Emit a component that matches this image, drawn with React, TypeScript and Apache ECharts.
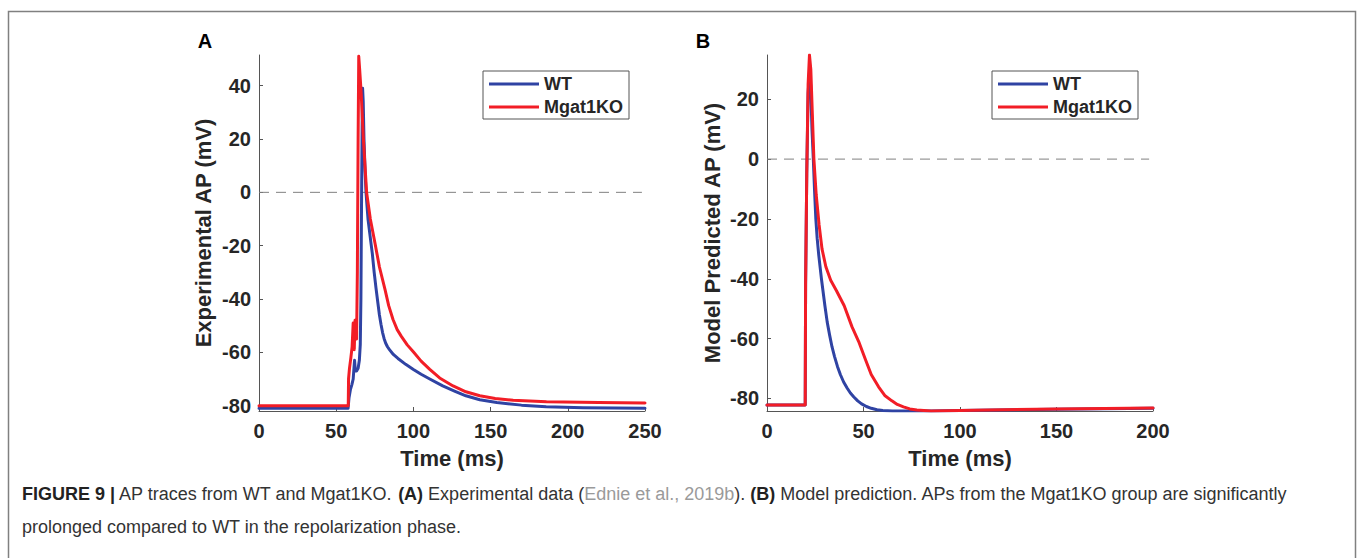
import React, { useEffect, useRef } from "react";
import * as echarts from "echarts";

const FONT = '"Liberation Sans", Arial, Helvetica, sans-serif';

// Panel A – experimental AP traces (time in ms, voltage in mV)
const wtA_t = [0, 57.7, 58.3, 59.2, 60.2, 61.0, 61.5, 61.9, 62.4, 63.2, 64.2, 65.0, 65.6, 66.0, 66.4, 66.8, 67.1, 67.5, 68.0, 68.7, 69.3, 70.6, 72.3, 73.4, 74.6, 75.8, 77.0, 78.0, 79.0, 80.0, 81.0, 82.0, 83.2, 84.5, 87.0, 90.0, 95.0, 100.0, 105.0, 110.0, 119.0, 127.0, 134.0, 143.0, 154.0, 170.0, 186.0, 210.0, 250.0];
const wtA_v = [-81, -81, -77, -74, -72, -70, -66, -63, -67, -67, -66, -63, -57, -40, -5, 25, 39, 34, 20, 8, 0, -10, -18, -23, -30, -36, -41.5, -46, -49.5, -52.5, -54.8, -56.5, -57.9, -59, -60.8, -62.3, -64.5, -66.4, -68.2, -69.8, -72.6, -74.6, -76.3, -77.8, -78.8, -79.8, -80.4, -80.8, -81];
const koA_t = [0, 57.8, 58.0, 58.6, 59.5, 60.3, 61.0, 61.4, 61.7, 62.2, 62.7, 63.2, 63.7, 64.2, 64.6, 65.2, 66.1, 67.6, 69.7, 72.1, 75.1, 78.0, 81.6, 84.0, 86.8, 89.5, 92.2, 96.0, 100.2, 105.0, 110.6, 117.0, 125.7, 134.0, 143.0, 153.0, 164.6, 186.2, 220.0, 250.0];
const koA_v = [-80, -80, -70, -66, -62, -58, -49, -55, -59, -48, -52, -55, -30, 20, 51, 46, 38, 20, 0, -10, -19, -28, -36.4, -42.5, -47.7, -51.5, -54, -57.2, -60, -63.3, -66.4, -69.6, -72.6, -74.8, -76.3, -77.3, -78, -78.5, -78.8, -79];

// Panel B – model predicted AP traces
const wtB_t = [0, 19.8, 20.0, 20.6, 21.3, 22.0, 22.6, 23.3, 24.0, 24.6, 25.3, 26.0, 26.8, 28.2, 30.0, 31.2, 32.5, 33.7, 35.0, 36.5, 38.0, 39.7, 41.5, 43.2, 45.0, 47.0, 49.0, 51.5, 54.0, 57.0, 60.0, 65.0, 70.0, 85.0, 100, 150, 200];
const wtB_v = [-82.2, -82.2, -42, -5, 22, 29, 25, 10, 0, -10, -20, -26.5, -32, -40, -49, -54.5, -59, -62.8, -66, -69.3, -72, -74.5, -76.5, -78.2, -79.5, -80.8, -81.8, -82.7, -83.3, -83.8, -84.0, -84.2, -84.2, -84.2, -84.0, -83.6, -83.3];
const koB_t = [0, 19.8, 20.0, 20.6, 21.3, 22.0, 22.7, 23.5, 24.3, 25.5, 27.0, 28.5, 30.5, 33.0, 36.0, 40.0, 44.0, 47.5, 51.0, 54.0, 57.8, 61.0, 64.7, 67.5, 70.7, 74.0, 77.6, 85, 100, 150, 200];
const koB_v = [-82.2, -82.2, -42, -5, 25, 34.8, 30, 15, 0, -12, -22, -30, -36, -40.5, -44, -49, -56, -61, -67, -72, -76.1, -79, -80.8, -82, -82.8, -83.5, -83.9, -84.2, -84.0, -83.5, -83.2];

const seriesNames = ["WT", "Mgat1KO"];
const xTicksA = [0, 50, 100, 150, 200, 250];
const yTicksA = [-80, -60, -40, -20, 0, 20, 40];
const xTicksB = [0, 50, 100, 150, 200];
const yTicksB = [-80, -60, -40, -20, 0, 20];
const zeroRefA = [0, 248];
const zeroRefB = [0, 198];

const BLUE = "#2F43A3";
const RED = "#F21D26";
const TXT = "#262626";
const AX = "#555555";

const zip = (t: number[], v: number[]) => t.map((x, i) => [x, v[i]]);

function axisBase(ticks: number[], margin: number) {
  return {
    type: "value",
    axisLine: { show: true, onZero: false, lineStyle: { color: AX, width: 1 } },
    axisTick: { show: true, inside: true, length: 4, customValues: ticks, lineStyle: { color: AX } },
    axisLabel: { color: TXT, fontSize: 20, fontWeight: "bold", fontFamily: FONT, customValues: ticks, margin },
    splitLine: { show: false },
    nameLocation: "middle",
    nameTextStyle: { fontSize: 22, fontWeight: "bold", color: TXT, fontFamily: FONT },
  };
}

function legendAt(left: number) {
  return {
    data: seriesNames,
    orient: "vertical",
    left,
    top: 71,
    padding: [4, 6, 3, 6],
    itemGap: 5,
    itemWidth: 50,
    itemHeight: 3,
    icon: "rect",
    borderColor: "#555",
    borderWidth: 1,
    selectedMode: false,
    textStyle: { fontSize: 18, fontWeight: "bold", color: TXT, fontFamily: FONT },
  };
}

function traceSeries(name: string, color: string, data: number[][], idx: number) {
  return {
    name,
    type: "line",
    xAxisIndex: idx,
    yAxisIndex: idx,
    data,
    showSymbol: false,
    symbol: "none",
    lineStyle: { color, width: 3, join: "round", cap: "round" },
    itemStyle: { color },
    z: 3,
  };
}

function zeroSeries(range: number[], idx: number) {
  return {
    name: "zero" + idx,
    type: "line",
    xAxisIndex: idx,
    yAxisIndex: idx,
    data: range.map((x) => [x, 0]),
    symbol: "none",
    silent: true,
    lineStyle: { color: "#808080", width: 1, type: [10, 7] },
    z: 2,
  };
}

export default function App() {
  const ref = useRef<HTMLDivElement>(null);
  useEffect(() => {
    if (!ref.current) return;
    const chart = echarts.init(ref.current, null, { renderer: "svg" });
    const option: any = {
      animation: false,
      backgroundColor: "#ffffff",
      textStyle: { fontFamily: FONT },
      grid: [
        { left: 259, top: 55, width: 386, height: 356 },
        { left: 767, top: 55, width: 386, height: 356 },
      ],
      xAxis: [
        { ...axisBase(xTicksA, 10), gridIndex: 0, min: 0, max: 250, interval: 50, name: "Time (ms)", nameGap: 36 },
        { ...axisBase(xTicksB, 10), gridIndex: 1, min: 0, max: 200, interval: 50, name: "Time (ms)", nameGap: 36 },
      ],
      yAxis: [
        { ...axisBase(yTicksA, 8), gridIndex: 0, min: -82, max: 51.5, name: "Experimental AP (mV)", nameGap: 45 },
        { ...axisBase(yTicksB, 8), gridIndex: 1, min: -84.2, max: 34.8, name: "Model Predicted AP (mV)", nameGap: 44 },
      ],
      legend: [legendAt(483), legendAt(992)],
      series: [
        zeroSeries(zeroRefA, 0),
        zeroSeries(zeroRefB, 1),
        traceSeries("WT", BLUE, zip(wtA_t, wtA_v), 0),
        traceSeries("Mgat1KO", RED, zip(koA_t, koA_v), 0),
        traceSeries("WT", BLUE, zip(wtB_t, wtB_v), 1),
        traceSeries("Mgat1KO", RED, zip(koB_t, koB_v), 1),
      ],
      graphic: [
        {
          type: "polyline",
          shape: { points: [[8.5, 570], [8.5, 11.5], [1355.5, 11.5], [1355.5, 570]] },
          style: { stroke: "#808080", lineWidth: 1.5, fill: "none" },
          silent: true,
        },
        {
          type: "text", x: 205, y: 41,
          style: { text: "A", fontSize: 20, fontWeight: "bold", fill: "#000", fontFamily: FONT, align: "center", verticalAlign: "middle" },
        },
        {
          type: "text", x: 703, y: 41,
          style: { text: "B", fontSize: 20, fontWeight: "bold", fill: "#000", fontFamily: FONT, align: "center", verticalAlign: "middle" },
        },
        {
          type: "text", x: 22, y: 494,
          style: {
            text: "{b|FIGURE 9 |} AP traces from WT and Mgat1KO. {b|(A)} Experimental data ({c|Ednie et al., 2019b}). {b|(B)} Model prediction. APs from the Mgat1KO group are significantly",
            fontSize: 18, fill: "#333", fontFamily: FONT, verticalAlign: "middle",
            rich: {
              b: { fontWeight: "bold", fontSize: 18, fill: "#222", fontFamily: FONT },
              c: { fontSize: 18, fill: "#9a9a9a", fontFamily: FONT },
            },
          },
        },
        {
          type: "text", x: 22, y: 527,
          style: { text: "prolonged compared to WT in the repolarization phase.", fontSize: 18, fill: "#333", fontFamily: FONT, verticalAlign: "middle" },
        },
      ],
    };
    chart.setOption(option);
    return () => chart.dispose();
  }, []);
  return <div ref={ref} style={{ position: "absolute", left: 0, top: 0, width: 1358, height: 558 }} />;
}
